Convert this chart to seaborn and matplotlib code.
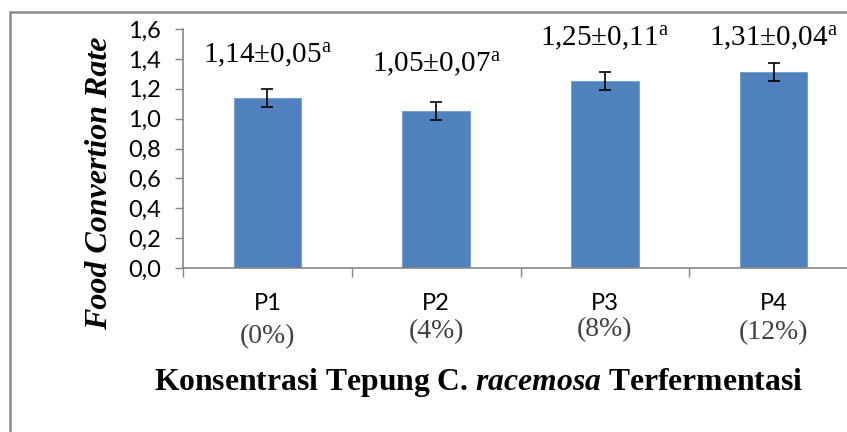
import matplotlib
matplotlib.use("Agg")
import matplotlib.pyplot as plt
import seaborn as sns
import pandas as pd
from matplotlib.patches import Rectangle

# ---- data ----
categories = ["P1", "P2", "P3", "P4"]
concentrations = ["(0%)", "(4%)", "(8%)", "(12%)"]
fcr_mean = [1.14, 1.05, 1.25, 1.31]
fcr_err_drawn = [0.06, 0.06, 0.06, 0.06]
label_sd = ["0,05", "0,07", "0,11", "0,04"]
label_letter = ["a", "a", "a", "a"]
yticks = [0.0, 0.2, 0.4, 0.6, 0.8, 1.0, 1.2, 1.4, 1.6]

# label placement (data units, baseline)
label_y = [1.372, 1.312, 1.486, 1.486]
pct_y_px = [337, 332, 330, 333]

sns.set_theme(style="white")
plt.rcParams["mathtext.fontset"] = "custom"
plt.rcParams["mathtext.rm"] = "Liberation Serif"
plt.rcParams["mathtext.it"] = "Liberation Serif:italic:bold"
plt.rcParams["mathtext.bf"] = "Liberation Serif:bold"

W, H = 847, 432
fig = plt.figure(figsize=(W / 100, H / 100), dpi=100)
fig.patch.set_facecolor("white")

# outer frame (only top/left visible in crop)
fig.add_artist(Rectangle((10 / W, -0.5), 2.0, (H - 12) / H + 0.5,
                         transform=fig.transFigure, fill=False,
                         edgecolor="#8c8c8c", linewidth=1.8))

ax = fig.add_axes([183 / W, (H - 268) / H, 675 / W, 239 / H])

df = pd.DataFrame({"cat": categories, "fcr": fcr_mean})
sns.barplot(data=df, x="cat", y="fcr", ax=ax, color="#4F81BD",
            saturation=1, width=0.40, errorbar=None,
            edgecolor="#7aa0cc", linewidth=0.8)
ax.errorbar(range(len(categories)), fcr_mean, yerr=fcr_err_drawn, fmt="none",
            ecolor="black", elinewidth=1.2, capsize=4.5, capthick=1.2)
ax.set_xlabel("")
ax.set_ylabel("")

ax.set_xlim(-0.5, len(categories) - 0.5)
ax.set_ylim(0, 1.6)
ax.set_yticks(yticks)
ax.set_yticklabels([f"{v:.1f}".replace(".", ",") for v in yticks],
                   fontfamily="Lato", fontsize=17, color="black")
ax.set_xticks(range(len(categories)))
ax.set_xticklabels(categories, fontfamily="Lato", fontsize=17, color="black")
ax.set_xticks([i - 0.5 for i in range(len(categories) + 1)], minor=True)

ax.tick_params(axis="y", which="major", direction="out", length=6,
               width=1, color="#868686", pad=10, left=True)
ax.tick_params(axis="x", which="major", length=0, pad=18)
ax.tick_params(axis="x", which="minor", direction="out", length=6.5,
               width=1, color="#868686", bottom=True)

for s in ["top", "right"]:
    ax.spines[s].set_visible(False)
for s in ["left", "bottom"]:
    ax.spines[s].set_color("#868686")
    ax.spines[s].set_linewidth(1.2)
ax.grid(False)

for i, (m, sd, let) in enumerate(zip(fcr_mean, label_sd, label_letter)):
    txt = f"{m:.2f}".replace(".", ",") + "±" + sd + r"$^{\mathrm{" + let + "}}$"
    ax.text(i, label_y[i], txt, ha="center", va="baseline",
            fontfamily="Liberation Serif", fontsize=21, color="black")

for i, p in enumerate(concentrations):
    xfig = ax.transData.transform((i, 0))[0]
    fig.text(xfig / W, 1 - pct_y_px[i] / H, p, ha="center", va="center",
             fontfamily="Liberation Serif", fontsize=20, color="#404040")

fig.text(478 / W, 1 - 390 / H,
         r"Konsentrasi Tepung C. $\mathit{racemosa}$ Terfermentasi",
         ha="center", va="baseline", fontfamily="Liberation Serif",
         fontweight="bold", fontsize=22.8, color="black")

fig.text(100 / W, 1 - 183 / H, "Food Convertion Rate", rotation=90,
         ha="center", va="center", fontfamily="Liberation Serif",
         fontweight="bold", fontstyle="italic", fontsize=23, color="black")

fig.savefig("out.png", dpi=100)
